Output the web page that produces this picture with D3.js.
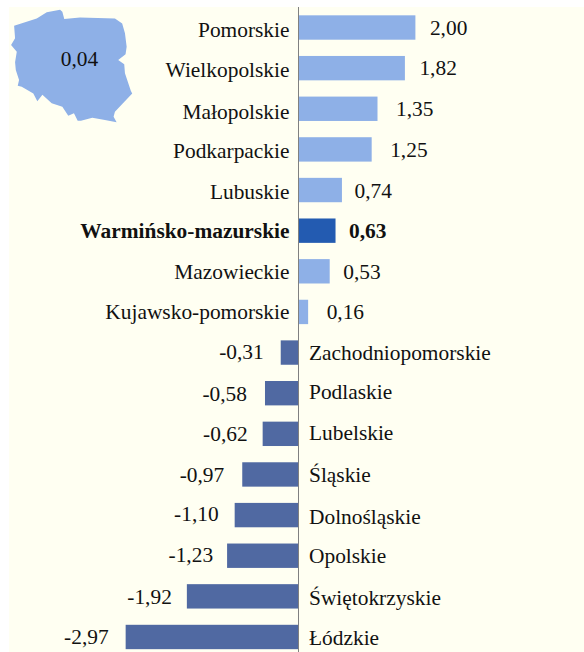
<!DOCTYPE html>
<html lang="pl">
<head>
<meta charset="utf-8">
<script src="https://cdn.jsdelivr.net/npm/d3@7"></script>
<style>
html,body{margin:0;padding:0;background:#fff}
svg{display:block}
text{font-family:"Liberation Serif","Times New Roman",serif;font-size:21.4px;fill:#111}
</style>
</head>
<body>
<svg id="chart" width="584" height="652"></svg>
<script>
const regions = ["Pomorskie","Wielkopolskie","Małopolskie","Podkarpackie","Lubuskie","Warmińsko-mazurskie","Mazowieckie","Kujawsko-pomorskie","Zachodniopomorskie","Podlaskie","Lubelskie","Śląskie","Dolnośląskie","Opolskie","Świętokrzyskie","Łódzkie"];
const values = [2.00,1.82,1.35,1.25,0.74,0.63,0.53,0.16,-0.31,-0.58,-0.62,-0.97,-1.10,-1.23,-1.92,-2.97];
const highlight = "Warmińsko-mazurskie";
const nationalValue = 0.04;
const polandOutline = [[14.37,54.01],[16.24,54.39],[17.07,54.71],[18.17,54.84],[18.36,54.74],[18.52,54.36],[19.82,54.43],[22.71,54.39],[23.31,54.13],[23.54,53.62],[23.68,52.92],[23.59,52.53],[22.98,52.23],[23.48,52.01],[23.54,51.54],[24.03,50.62],[24.14,50.50],[22.71,49.55],[22.60,49.29],[22.85,49.00],[21.88,49.12],[20.84,49.24],[19.90,49.08],[19.63,49.08],[19.32,49.47],[18.85,49.34],[18.36,49.81],[17.48,49.99],[16.71,50.43],[16.29,50.09],[15.96,50.50],[15.00,50.85],[14.67,50.90],[14.78,51.19],[14.51,51.71],[14.45,52.11],[14.59,52.66],[14.12,53.01],[14.45,53.36],[14.37,54.01]];

// Hand-set label offsets seen in the reference (layout only, in px)
const categoryDy = [2,2,3,2,2,0,1,0,0,-1,-1,1,2,0,2,1];
const valueDy = [0,0,0,1,1,0,1,0,-1,1,0,1,-1,-1,1,0];
const valueDx = [-1,-1,3,3,-3,-2,-2,3,-14,-2,1,-2,0,2,1,-1];

const colors = {bg:"#FFFFF2", pos:"#8EB0E7", neg:"#5069A2", hi:"#235BB1", axis:"#808080"};
const fmt = v => d3.format(".2f")(v).replace(".", ",").replace("−", "-");

const svg = d3.select("#chart");
svg.append("rect").attr("x",9).attr("y",7).attr("width",575).attr("height",645).attr("fill",colors.bg);

const x = d3.scaleLinear().domain([0,1]).range([298.8,357.1]);
const y = d3.scaleBand().domain(regions).range([7.2,657.3]).paddingInner(0.4).paddingOuter(0.2);
const mid = d => y(d) + y.bandwidth()/2;

// Map
const stretched = d3.geoProjection((l,p)=>[l,1.595*p]);
const polygon = {type:"Polygon",coordinates:[polandOutline]};
stretched.fitExtent([[11,9.7],[132.3,122.3]],polygon);
svg.append("path").datum(polygon).attr("d",d3.geoPath(stretched)).attr("fill",colors.pos);
svg.append("text").attr("x",79.5).attr("y",66).attr("text-anchor","middle").text(fmt(nationalValue));

// Bars
const rows = regions.map((name,i)=>({name,value:values[i],i}));
svg.append("g").selectAll("rect").data(rows).join("rect")
  .attr("x",d=>Math.min(x(0),x(d.value)))
  .attr("y",d=>y(d.name))
  .attr("width",d=>Math.abs(x(d.value)-x(0)))
  .attr("height",y.bandwidth())
  .attr("fill",d=>d.name===highlight?colors.hi:d.value<0?colors.neg:colors.pos);

// Axis line
svg.append("line").attr("x1",298.5).attr("x2",298.5).attr("y1",7).attr("y2",652)
  .attr("stroke",colors.axis).attr("stroke-width",1);

// Category labels
svg.append("g").selectAll("text").data(rows).join("text")
  .attr("x",d=>d.value<0?309:289.5)
  .attr("y",d=>mid(d.name)+7+categoryDy[d.i])
  .attr("text-anchor",d=>d.value<0?"start":"end")
  .attr("font-weight",d=>d.name===highlight?"bold":null)
  .text(d=>d.name);

// Value labels
svg.append("g").selectAll("text").data(rows).join("text")
  .attr("x",d=>(d.value<0?x(d.value)-(d.value>-0.5?3:16):x(d.value)+15.5)+valueDx[d.i])
  .attr("y",d=>mid(d.name)+7+valueDy[d.i])
  .attr("text-anchor",d=>d.value<0?"end":"start")
  .attr("font-weight",d=>d.name===highlight?"bold":null)
  .text(d=>fmt(d.value));
</script>
</body>
</html>
